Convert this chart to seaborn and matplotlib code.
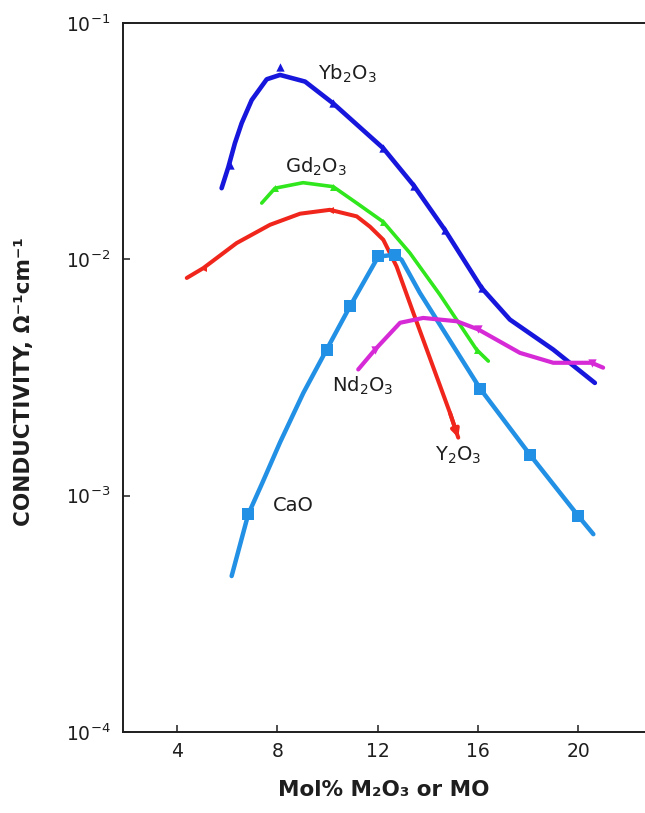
import matplotlib
matplotlib.use("Agg")
import matplotlib.pyplot as plt
import seaborn as sns
import pandas as pd

# Conductivity (ohm^-1 cm^-1) vs dopant content (mol %) for doped zirconia
yb_x = [5.78, 6.05, 6.31, 6.58, 6.98, 7.58, 8.11, 9.11, 10.23, 12.23, 13.45, 14.69, 16.15, 17.28, 19.01, 20.67]
yb_y = [0.0200, 0.0246, 0.0310, 0.0377, 0.0472, 0.0578, 0.0603, 0.0565, 0.0457, 0.0295, 0.0205, 0.0133, 0.00757, 0.00556, 0.00415, 0.00300]
yb_mx = [6.10, 8.11, 10.23, 12.23, 13.45, 14.69, 16.15]
yb_my = [0.0250, 0.0650, 0.0457, 0.0295, 0.0205, 0.0133, 0.00757]

gd_x = [7.38, 7.91, 9.03, 10.23, 11.17, 12.23, 13.29, 14.49, 15.95, 16.42]
gd_y = [0.0173, 0.0200, 0.0211, 0.0203, 0.0173, 0.0144, 0.01064, 0.00708, 0.00415, 0.00371]
gd_mx = [7.91, 10.23, 12.23, 15.95]
gd_my = [0.0200, 0.0203, 0.0144, 0.00415]

y2_x = [4.39, 5.05, 6.38, 7.71, 8.91, 10.10, 11.17, 11.70, 12.23, 12.76, 13.43, 14.89, 15.22]
y2_y = [0.00834, 0.00918, 0.01172, 0.0140, 0.0156, 0.0162, 0.0152, 0.01374, 0.0121, 0.00933, 0.00593, 0.00224, 0.00176]
y2_mx = [5.05, 10.10]
y2_my = [0.00918, 0.0162]

ca_x = [6.18, 6.84, 7.40, 8.11, 9.04, 9.97, 10.90, 12.03, 12.70, 12.96, 13.69, 16.09, 18.08, 20.01, 20.61]
ca_y = [0.000457, 0.000833, 0.00113, 0.00168, 0.00272, 0.00415, 0.00632, 0.01028, 0.01045, 0.00995, 0.00721, 0.00284, 0.00149, 0.000820, 0.000687]
ca_mx = [6.84, 9.97, 10.90, 12.03, 12.70, 16.09, 18.08, 20.01]
ca_my = [0.000833, 0.00415, 0.00632, 0.01028, 0.01045, 0.00284, 0.00149, 0.000820]

nd_x = [11.23, 11.90, 12.90, 13.82, 15.16, 16.02, 17.68, 19.01, 20.54, 21.0]
nd_y = [0.00342, 0.00415, 0.00539, 0.00565, 0.00547, 0.00505, 0.00402, 0.00365, 0.00365, 0.00348]
nd_mx = [11.90, 16.02, 20.54]
nd_my = [0.00415, 0.00505, 0.00365]

x_ticks = [4, 8, 12, 16, 20]
y_ticks = [1e-4, 1e-3, 1e-2, 1e-1]
y_ticklabels = ["$10^{-4}$", "$10^{-3}$", "$10^{-2}$", "$10^{-1}$"]

# curve labels: text, left x, baseline y
label_text = ["Yb$_2$O$_3$", "Gd$_2$O$_3$", "Nd$_2$O$_3$", "Y$_2$O$_3$", "CaO"]
label_x = [9.62, 8.31, 10.17, 14.29, 7.83]
label_y = [0.0574, 0.0232, 0.002766, 0.00140, 0.000861]

sns.set_theme(style="white")
plt.rcParams["font.family"] = ["DejaVu Sans"]
plt.rcParams["mathtext.default"] = "regular"

ink = "#1e1e1e"
series = [
    (yb_x, yb_y, yb_mx, yb_my, "#1616dc", 3.3, "^", 6),
    (gd_x, gd_y, gd_mx, gd_my, "#30e61c", 2.6, "^", 5),
    (y2_x, y2_y, y2_mx, y2_my, "#f0261c", 2.9, "<", 5),
    (ca_x, ca_y, ca_mx, ca_my, "#2290e4", 3.2, "s", 8),
    (nd_x, nd_y, nd_mx, nd_my, "#d62ad6", 3.0, "v", 6),
]

W, H = 645, 813
fig = plt.figure(figsize=(W / 100, H / 100), dpi=100)
ax = fig.add_axes([123 / W, 1 - 732 / H, (W - 123) / W, (732 - 23) / H])
ax.set_yscale("log")

for xs, ys, mx, my, col, lw, mk, ms in series:
    df = pd.DataFrame({"x": xs, "y": ys})
    sns.lineplot(data=df, x="x", y="y", ax=ax, color=col, linewidth=lw,
                 sort=False, estimator=None, solid_capstyle="round",
                 solid_joinstyle="round")
    dm = pd.DataFrame({"x": mx, "y": my})
    sns.scatterplot(data=dm, x="x", y="y", ax=ax, color=col, marker=mk,
                    s=ms ** 2, linewidth=0, zorder=4)

# arrow head at the end of the Y2O3 curve
ax.annotate("", xy=(y2_x[-1], y2_y[-1]), xytext=(y2_x[-2], y2_y[-2]),
            arrowprops=dict(arrowstyle="-|>", color="#f0261c", lw=2.9,
                            mutation_scale=11, shrinkA=0, shrinkB=0))

for t, lx, ly in zip(label_text, label_x, label_y):
    ax.text(lx, ly, t, fontsize=14, color=ink, ha="left", va="baseline")

ax.set_xlim(1.846, 22.67)
ax.set_ylim(1e-4, 1e-1)
ax.set_xticks(x_ticks)
ax.set_xticklabels([str(v) for v in x_ticks])
ax.set_yticks(y_ticks)
ax.set_yticklabels(y_ticklabels)
ax.minorticks_off()
ax.tick_params(axis="both", which="major", direction="in", length=5,
               width=1.1, color=ink, labelcolor=ink, labelsize=13.5,
               bottom=True, left=True, top=False, right=False)
ax.tick_params(axis="y", pad=9)
ax.tick_params(axis="x", pad=7)
ax.set_xlabel("")
ax.set_ylabel("")

for side in ["left", "bottom", "top"]:
    ax.spines[side].set_visible(True)
    ax.spines[side].set_color(ink)
    ax.spines[side].set_linewidth(1.4)
ax.spines["right"].set_visible(False)

fig.text(24 / W, 1 - 382 / H, "CONDUCTIVITY, \u03a9\u207b\u00b9cm\u207b\u00b9",
         rotation=90, ha="center", va="center", fontsize=15.5,
         fontweight="bold", color=ink)
fig.text(384 / W, 1 - 790 / H, "Mol% M\u2082O\u2083 or MO",
         ha="center", va="center", fontsize=15.5, fontweight="bold", color=ink)

fig.savefig("out.png", dpi=100, facecolor="white")
